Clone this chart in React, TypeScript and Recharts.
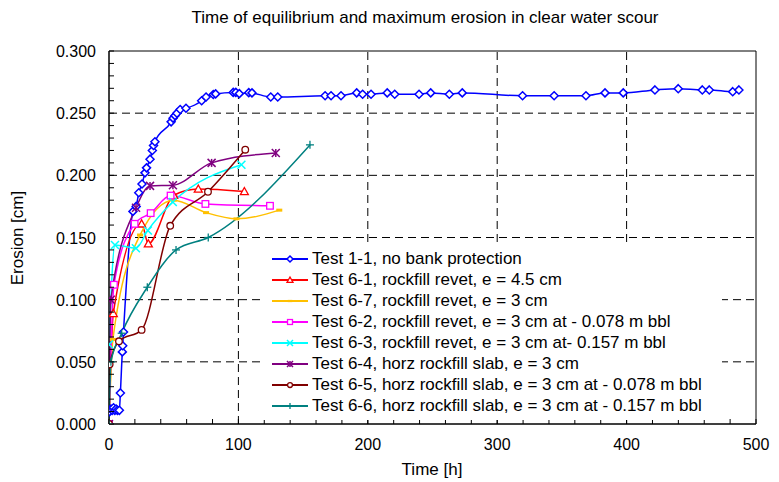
import React from 'react';
import {
  LineChart,
  Line,
  XAxis,
  YAxis,
  ReferenceLine,
  ReferenceArea,
  Legend
} from 'recharts';

const FONT = '"Liberation Sans", Arial, sans-serif';

// axis ticks
const xMajorTicks = [0, 100, 200, 300, 400, 500];
const xAllTicks = [0, 20, 40, 60, 80, 100, 120, 140, 160, 180, 200, 220, 240, 260, 280, 300, 320, 340, 360, 380, 400, 420, 440, 460, 480, 500];
const yMajorTicks = [0, 0.05, 0.1, 0.15, 0.2, 0.25, 0.3];
const yAllTicks = [0, 0.01, 0.02, 0.03, 0.04, 0.05, 0.06, 0.07, 0.08, 0.09, 0.1, 0.11, 0.12, 0.13, 0.14, 0.15, 0.16, 0.17, 0.18, 0.19, 0.2, 0.21, 0.22, 0.23, 0.24, 0.25, 0.26, 0.27, 0.28, 0.29, 0.3];

// [time h, erosion cm]
const test11 = [
  [0, 0.011], [0.5, 0.01], [1.5, 0.012], [2.5, 0.011], [3.5, 0.013], [4.5, 0.011], [5.5, 0.012], [6.5, 0.011], [8, 0.011],
  [8.8, 0.025], [10.3, 0.058], [10.6, 0.063], [11.2, 0.074], [18.5, 0.171], [21, 0.175], [23, 0.186], [25.5, 0.193],
  [27.8, 0.202], [29, 0.206], [31.7, 0.213], [33.5, 0.22], [34.4, 0.224], [35.5, 0.227], [48, 0.243], [49.5, 0.246],
  [51, 0.248], [52.5, 0.25], [55, 0.253], [59.5, 0.254], [71.6, 0.26], [75, 0.263], [80.6, 0.265], [82.4, 0.2655],
  [96, 0.2667], [98, 0.2667], [100.7, 0.2657], [108, 0.2665], [110.5, 0.2663], [125, 0.263], [130.4, 0.263],
  [167, 0.264], [171.6, 0.264], [179.3, 0.264], [191.4, 0.2663], [196, 0.2652], [202.5, 0.2652], [215, 0.2663],
  [220.8, 0.2652], [239.6, 0.2652], [248.6, 0.2663], [263, 0.2652], [273, 0.2663], [319.6, 0.264], [344, 0.264],
  [368.6, 0.264], [383.3, 0.2663], [397.4, 0.2663], [421.9, 0.2687], [439.9, 0.2697], [458.5, 0.2687], [463.9, 0.2687],
  [482, 0.2673], [486.8, 0.2687]
];
const test61 = [[0, 0], [3.3, 0.089], [25.2, 0.161], [30.4, 0.145], [50, 0.184], [69, 0.189], [104.6, 0.187]];
const test67 = [[0, 0], [3, 0.068], [24, 0.152], [50, 0.18], [75, 0.17], [98.5, 0.165], [131.6, 0.172]];
const test62 = [[0, 0], [3.8, 0.112], [19.8, 0.161], [32.2, 0.1696], [47.6, 0.1837], [74.5, 0.177], [124.4, 0.1755]];
const test63 = [[0, 0.064], [4.6, 0.144], [20.8, 0.1414], [30, 0.1557], [49.3, 0.1785], [102.3, 0.2085]];
const test64 = [[0, 0], [1.4, 0.1], [20.9, 0.174], [31.7, 0.1915], [49.4, 0.192], [79.3, 0.21], [128.9, 0.218]];
const test65 = [[0, 0], [0.5, 0.048], [7.7, 0.0665], [25.2, 0.0757], [47.3, 0.1594], [76.5, 0.1868], [105.3, 0.2206]];
const test66 = [[0, 0], [1.5, 0.05], [9.8, 0.073], [29.6, 0.11], [51.8, 0.14], [76.7, 0.15], [155.3, 0.2245]];

const series = [
  { name: 'Test 1-1, no bank protection', color: '#0000FF', shape: 'diamond', points: test11 },
  { name: 'Test 6-1, rockfill revet, e = 4.5 cm', color: '#FF0000', shape: 'triangle', points: test61 },
  { name: 'Test 6-7, rockfill revet, e = 3 cm', color: '#FFC000', shape: 'dash', points: test67 },
  { name: 'Test 6-2, rockfill revet, e = 3 cm at - 0.078 m bbl', color: '#FF00FF', shape: 'square', points: test62 },
  { name: 'Test 6-3, rockfill revet, e = 3 cm at- 0.157 m bbl', color: '#00FFFF', shape: 'x', points: test63 },
  { name: 'Test 6-4, horz rockfill slab, e = 3 cm', color: '#800080', shape: 'star', points: test64 },
  { name: 'Test 6-5, horz rockfill slab, e = 3 cm at - 0.078 m bbl', color: '#800000', shape: 'circle', points: test65 },
  { name: 'Test 6-6, horz rockfill slab, e = 3 cm at - 0.157 m bbl', color: '#008080', shape: 'plus', points: test66 }
];

const Marker = ({ shape, color, cx, cy, s = 1 }: any) => {
  if (cx == null || cy == null) return null;
  const r = 4 * s;
  switch (shape) {
    case 'diamond':
      return <polygon points={`${cx},${cy - r} ${cx + r},${cy} ${cx},${cy + r} ${cx - r},${cy}`} fill="#fff" stroke={color} strokeWidth={1.5} />;
    case 'triangle':
      return <polygon points={`${cx},${cy - r} ${cx + r},${cy + r * 0.8} ${cx - r},${cy + r * 0.8}`} fill="#fff" stroke={color} strokeWidth={1.3} />;
    case 'dash':
      return <rect x={cx - 3 * s} y={cy - 1.5 * s} width={6 * s} height={3 * s} fill={color} />;
    case 'square':
      return <rect x={cx - 3.3 * s} y={cy - 3.3 * s} width={6.6 * s} height={6.6 * s} fill="#fff" stroke={color} strokeWidth={1.3} />;
    case 'x':
      return (
        <g stroke={color} strokeWidth={1.5}>
          <line x1={cx - r} y1={cy - r} x2={cx + r} y2={cy + r} />
          <line x1={cx - r} y1={cy + r} x2={cx + r} y2={cy - r} />
        </g>
      );
    case 'star':
      return (
        <g stroke={color} strokeWidth={1.5}>
          <line x1={cx - r} y1={cy - r} x2={cx + r} y2={cy + r} />
          <line x1={cx - r} y1={cy + r} x2={cx + r} y2={cy - r} />
          <line x1={cx} y1={cy - r} x2={cx} y2={cy + r} />
        </g>
      );
    case 'circle':
      return <circle cx={cx} cy={cy} r={3.3 * s} fill="#fff" stroke={color} strokeWidth={1.3} />;
    case 'plus':
      return (
        <g stroke={color} strokeWidth={1.3}>
          <line x1={cx - r} y1={cy} x2={cx + r} y2={cy} />
          <line x1={cx} y1={cy - r} x2={cx} y2={cy + r} />
        </g>
      );
    default:
      return null;
  }
};

const isYMajor = (v: number) => yMajorTicks.some((m) => Math.abs(m - v) < 1e-9);

const XTick = (props: any) => {
  const { x, y, payload } = props;
  const major = xMajorTicks.includes(payload.value);
  return (
    <g>
      <line x1={x} x2={x} y1={y} y2={y - 5} stroke="#000" />
      {major && (
        <text x={x} y={y + 26} textAnchor="middle" fontSize={16} fontFamily={FONT} fill="#000">
          {payload.value}
        </text>
      )}
    </g>
  );
};

const YTick = (props: any) => {
  const { x, y, payload } = props;
  const major = isYMajor(payload.value);
  return (
    <g>
      <line x1={x} x2={x + 5} y1={y} y2={y} stroke="#000" />
      {major && (
        <text x={x - 13} y={y + 6} textAnchor="end" fontSize={16} fontFamily={FONT} fill="#000">
          {payload.value.toFixed(3)}
        </text>
      )}
    </g>
  );
};

const LegendBox = () => (
  <div style={{ width: 460, height: 174, background: '#fff', paddingTop: 2, boxSizing: 'border-box', fontFamily: FONT }}>
    {series.map((s) => (
      <div key={s.name} style={{ display: 'flex', alignItems: 'center', height: 21, paddingLeft: 10 }}>
        <svg width={36} height={12} style={{ flex: 'none' }}>
          <line x1={0} x2={36} y1={6} y2={6} stroke={s.color} strokeWidth={2} />
          <Marker shape={s.shape} color={s.color} cx={18} cy={6} s={0.75} />
        </svg>
        <span style={{ marginLeft: 4, fontSize: 17, color: '#000', whiteSpace: 'nowrap' }}>{s.name}</span>
      </div>
    ))}
  </div>
);

const gridX = xMajorTicks.slice(1, -1);
const gridY = yMajorTicks.slice(1, -1);

export default function App() {
  return (
    <div style={{ position: 'absolute', left: 0, top: 0, width: 779, height: 482, background: '#fff', fontFamily: FONT }}>
      <div style={{ position: 'absolute', left: 425, top: 8, transform: 'translateX(-50%)', fontSize: 17, lineHeight: '20px', whiteSpace: 'nowrap', color: '#000' }}>
        Time of equilibrium and maximum erosion in clear water scour
      </div>
      <div style={{ position: 'absolute', left: 18, top: 238, transform: 'translate(-50%, -50%) rotate(-90deg)', fontSize: 17, whiteSpace: 'nowrap', color: '#000' }}>
        Erosion [cm]
      </div>
      <div style={{ position: 'absolute', left: 432, top: 470, transform: 'translate(-50%, -50%)', fontSize: 17, whiteSpace: 'nowrap', color: '#000' }}>
        Time [h]
      </div>
      <LineChart width={779} height={482} margin={{ top: 51, right: 23, left: 0, bottom: 0 }}>
        <XAxis
          dataKey="t"
          type="number"
          domain={[0, 500]}
          ticks={xAllTicks}
          interval={0}
          height={58}
          tickSize={0}
          tickMargin={0}
          tickLine={false}
          tick={<XTick />}
          axisLine={{ stroke: '#000' }}
          allowDataOverflow
        />
        <YAxis
          type="number"
          domain={[0, 0.3]}
          ticks={yAllTicks}
          interval={0}
          width={109}
          tickSize={0}
          tickMargin={0}
          tickLine={false}
          tick={<YTick />}
          axisLine={{ stroke: '#000' }}
          allowDataOverflow
        />
        {gridY.map((v) => (
          <ReferenceLine key={`gy${v}`} y={v} stroke="#000" strokeDasharray="8 5" />
        ))}
        {gridX.map((v) => (
          <ReferenceLine key={`gx${v}`} x={v} stroke="#000" strokeDasharray="8 5" />
        ))}
        <ReferenceArea x1={0} x2={500} y1={0} y2={0.3} fill="none" stroke="#000" strokeWidth={1} />
        <Legend
          layout="vertical"
          align="center"
          verticalAlign="middle"
          wrapperStyle={{ position: 'absolute', left: 262, top: 246, width: 460, height: 174 }}
          content={() => <LegendBox />}
        />
        {series.map((s) => (
          <Line
            key={s.name}
            name={s.name}
            data={s.points.map(([t, e]) => ({ t, e }))}
            dataKey="e"
            type="monotone"
            stroke={s.color}
            strokeWidth={1.5}
            dot={(p: any) => <Marker key={`${s.name}-${p.index}`} shape={s.shape} color={s.color} cx={p.cx} cy={p.cy} />}
            activeDot={false}
            isAnimationActive={false}
          />
        ))}
      </LineChart>
    </div>
  );
}
